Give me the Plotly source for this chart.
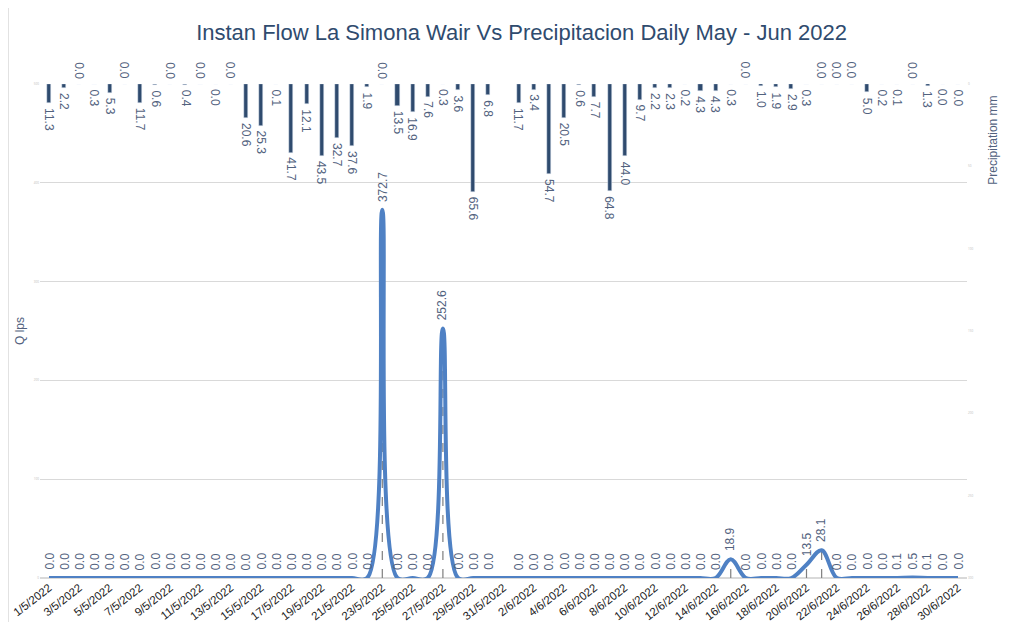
import plotly.graph_objects as go

# daily dates 1/5/2022 .. 30/6/2022
dates = [f"{d}/5/2022" for d in range(1, 32)] + [f"{d}/6/2022" for d in range(1, 31)]

# precipitation mm (None = no record)
precip = [11.3, 2.2, 0.0, 0.3, 5.3, 0.0, 11.7, 0.6, 0.0, 0.4,
          0.0, 0.04, 0.0, 20.6, 25.3, 0.1, 41.7, 12.1, 43.5, 32.7,
          37.6, 1.9, 0.0, 13.5, 16.9, 7.6, 0.3, 3.6, 65.6, 6.8,
          None,
          11.7, 3.4, 54.7, 20.5, 0.6, 7.7, 64.8, 44.0, 9.7, 2.2,
          2.3, 0.2, 4.3, 4.3, 0.3, 0.0, 1.0, 1.9, 2.9, 0.3,
          0.0, 0.0, 0.0, 5.0, 0.2, 0.1, 0.0, 1.3, 0.04, 0.04]

# instantaneous flow Q lps
flow = [0.0, 0.0, 0.0, 0.0, 0.0, 0.0, 0.0, 0.0, 0.0, 0.0,
        0.0, 0.0, 0.0, 0.0, 0.0, 0.0, 0.0, 0.0, 0.0, 0.0,
        0.0, 0.0, 372.7, 0.0, 0.0, 0.0, 252.6, 0.0, 0.0, 0.0,
        None,
        0.0, 0.0, 0.0, 0.0, 0.0, 0.0, 0.0, 0.0, 0.0, 0.0,
        0.0, 0.0, 0.0, 0.0, 18.9, 0.0, 0.0, 0.0, 0.0, 13.5,
        28.1, 0.0, 0.0, 0.0, 0.0, 0.1, 0.5, 0.1, 0.0, 0.0]

tick_dates = dates[::2]

navy = "#2F4B6E"
blue = "#4F81C4"
label_col = "#52627E"
narrow = "Liberation Sans Narrow, Arial Narrow, sans-serif"

fig = go.Figure()

# precipitation bars hanging from the top (reversed secondary axis)
fig.add_trace(go.Bar(
    x=dates, y=precip, yaxis="y2", width=0.27,
    marker_color=navy, name="Precipitation mm",
))

# precipitation labels: under the bar, or above the axis when the day is dry
for d, p in zip(dates, precip):
    if p is None:
        continue
    fig.add_annotation(
        x=d, y=p, xref="x", yref="y2", text=f"{p:.1f}", showarrow=False,
        textangle=90,
        yanchor="top" if p > 0 else "bottom",
        yshift=-3 if p > 0 else 3,
        font=dict(family=narrow, size=12, color=label_col),
    )

# dashed drop lines under the flow peaks
dx, dy = [], []
for d, q in zip(dates, flow):
    if q is not None and q > 1:
        dx += [d, d, None]
        dy += [0, q, None]
fig.add_trace(go.Scatter(
    x=dx, y=dy, mode="lines",
    line=dict(color="#7F7F7F", width=1.2, dash="dash"),
    hoverinfo="skip", name="drop",
))

# flow line
fig.add_trace(go.Scatter(
    x=dates, y=flow, mode="lines",
    line=dict(color=blue, width=4, shape="spline", smoothing=1),
    connectgaps=True, name="Q lps",
))

# rotated value labels for the flow line
for d, q in zip(dates, flow):
    if q is None:
        continue
    fig.add_annotation(
        x=d, y=q, xref="x", yref="y", text=f"{q:.1f}", showarrow=False,
        textangle=-90, yanchor="bottom", yshift=6,
        font=dict(family=narrow, size=12, color=label_col),
    )

fig.add_annotation(
    x=1.028, y=0.887, xref="paper", yref="paper", text="Precipitation mm",
    showarrow=False, textangle=-90, xanchor="center", yanchor="middle",
    font=dict(family=narrow, size=12, color=label_col),
)

# page body adds an 8px margin, so the figure is offset by 8px
fig.update_layout(
    width=1011, height=614,
    paper_bgcolor="white", plot_bgcolor="white",
    showlegend=False,
    margin=dict(l=32, r=52, t=76, b=44),
    title=dict(
        text="Instan Flow La Simona Wair Vs Precipitacion Daily May - Jun 2022",
        x=0.508, xanchor="center", y=0.961, yanchor="middle",
        font=dict(family="Liberation Sans, Arial, sans-serif", size=22, color=navy),
    ),
    bargap=0,
    xaxis=dict(
        type="category", tickmode="array", tickvals=tick_dates,
        tickangle=-38, showgrid=False, ticks="",
        tickfont=dict(family=narrow, size=11.5, color="#222222"),
        automargin=False,
    ),
    yaxis=dict(
        range=[0, 500], dtick=100, showgrid=True, gridcolor="#D9D9D9",
        zeroline=True, zerolinecolor="#D9D9D9", zerolinewidth=1.5,
        tickfont=dict(size=3, color="#BBBBBB"),
        title=dict(text="Q lps", font=dict(family=narrow, size=12, color=label_col), standoff=6),
        automargin=False,
    ),
    yaxis2=dict(
        overlaying="y", side="right", range=[300, 0], dtick=50,
        showgrid=False, zeroline=False,
        tickfont=dict(size=3, color="#BBBBBB"),
        automargin=False,
    ),
    shapes=[dict(type="line", xref="paper", yref="paper",
                 x0=-0.0345, x1=-0.0345, y0=-0.1, y1=1.2,
                 line=dict(color="#D9D9D9", width=1.5))],
)

fig.write_html("out.html")
